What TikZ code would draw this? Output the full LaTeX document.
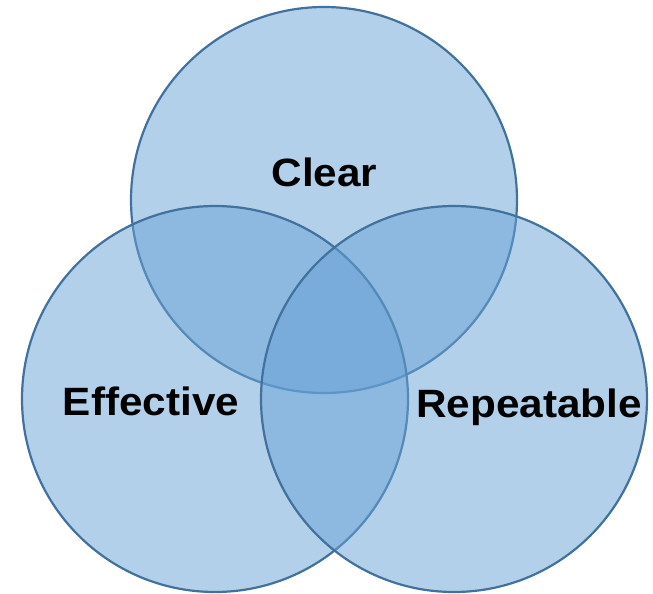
\documentclass[tikz,border=0pt]{standalone}
\usepackage{fontspec}
\setmainfont{Liberation Sans}[FakeStretch=1.07]
\definecolor{setfill}{HTML}{67A1D5}
\definecolor{setline}{HTML}{41719C}
\begin{document}
\begin{tikzpicture}[x=1pt,y=-1pt,
  setcircle/.style={circle, minimum size=386pt, inner sep=0pt,
    fill=setfill, fill opacity=0.5, draw=setline, draw opacity=1, line width=2.2pt},
  setlabel/.style={font=\fontsize{39.5}{41}\selectfont\bfseries, text=black, inner sep=0pt, anchor=base}]
  \useasboundingbox (0,0) rectangle (653,594);
  % the three overlapping sets
  \node[setcircle] (clear) at (324,200) {};
  \node[setcircle] (effective) at (215,399) {};
  \node[setcircle] (repeatable) at (454,399) {};
  % labels
  \node[setlabel] (lclear) at (324.5,186) {Clear};
  \node[setlabel] (leffective) at (151,415) {Effective};
  \node[setlabel] (lrepeatable) at (529,417) {Repeatable};
\end{tikzpicture}
\end{document}
